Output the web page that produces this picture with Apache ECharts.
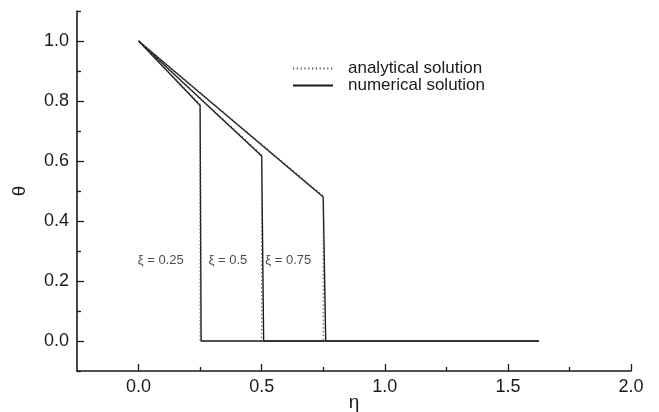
<!DOCTYPE html>
<html>
<head>
<meta charset="utf-8">
<script src="https://cdn.jsdelivr.net/npm/echarts@6/dist/echarts.min.js"></script>
<style>
  html, body { margin: 0; padding: 0; background: #fff; }
  #chart { width: 659px; height: 412px; }
</style>
</head>
<body>
<div id="chart"></div>
<script>
// Temperature profiles θ(η) at three times ξ
const xi = [0.25, 0.5, 0.75];
const xiLabels = ['ξ = 0.25', 'ξ = 0.5', 'ξ = 0.75'];

// analytical solution (eta, theta) per xi
const anaEta = [
  [0, 0.25, 0.25, 1.625],
  [0, 0.5, 0.5, 1.625],
  [0, 0.75, 0.75, 1.625]
];
const anaTheta = [
  [1.0, 0.789, 0, 0],
  [1.0, 0.621, 0, 0],
  [1.0, 0.484, 0, 0]
];

// numerical solution (eta, theta) per xi
const numEta = [
  [0, 0.25, 0.254, 1.625],
  [0, 0.5, 0.508, 1.625],
  [0, 0.75, 0.76, 1.625]
];
const numTheta = [
  [1.0, 0.785, 0, 0],
  [1.0, 0.617, 0, 0],
  [1.0, 0.48, 0, 0]
];

// annotation anchors (eta, theta) for the xi labels
const xiLabelEta = [0.09, 0.363, 0.608];
const xiLabelTheta = [0.27, 0.27, 0.27];

// axis ticks
const xMajor = [0, 0.5, 1.0, 1.5, 2.0];
const xMinor = [0.25, 0.75, 1.25, 1.75];
const yMajor = [0, 0.2, 0.4, 0.6, 0.8, 1.0];
const yMinor = [-0.1, 0.1, 0.3, 0.5, 0.7, 0.9, 1.1];

const FONT = '"Liberation Sans", Arial, Helvetica, sans-serif';
const INK = '#1a1a1a';

function pairs(xs, ys) { return xs.map((x, i) => [x, ys[i]]); }

const series = [];
xi.forEach((v, k) => {
  series.push({
    name: 'numerical solution', type: 'line', xAxisIndex: 0, yAxisIndex: 0,
    data: pairs(numEta[k], numTheta[k]), symbol: 'none', z: 2,
    lineStyle: { color: INK, width: 1.4, type: 'solid' }, itemStyle: { color: INK }
  });
});
xi.forEach((v, k) => {
  series.push({
    name: 'analytical solution', type: 'line', xAxisIndex: 0, yAxisIndex: 0,
    data: pairs(anaEta[k], anaTheta[k]), symbol: 'none', z: 3,
    lineStyle: { color: '#555', width: 1.2, type: [1.2, 2.6] }, itemStyle: { color: '#555' }
  });
});
series.push({
  type: 'scatter', xAxisIndex: 0, yAxisIndex: 0, symbolSize: 0, silent: true,
  data: xiLabels.map((t, i) => ({ value: [xiLabelEta[i], xiLabelTheta[i]], name: t })),
  label: { show: true, position: 'inside', formatter: p => p.name,
           fontFamily: FONT, fontSize: 13, color: INK }
});

const xBase = {
  type: 'value', min: -0.25, max: 2.0, gridIndex: 0, position: 'bottom',
  splitLine: { show: false }
};
const yBase = {
  type: 'value', min: -0.1, max: 1.1, gridIndex: 0, position: 'left',
  splitLine: { show: false }
};

const option = {
  animation: false,
  backgroundColor: '#fff',
  grid: { left: 77, top: 11, right: 28, bottom: 41, containLabel: false, outerBoundsMode: 'none' },
  legend: {
    data: ['analytical solution', 'numerical solution'],
    orient: 'vertical', left: 287, top: 55, itemWidth: 40, itemHeight: 14, itemGap: 0,
    itemStyle: { opacity: 0 },
    textStyle: { fontFamily: FONT, fontSize: 17, lineHeight: 17, color: INK, padding: [0, 0, 0, 10] }
  },
  xAxis: [
    Object.assign({}, xBase, {
      name: 'η', nameLocation: 'middle', nameGap: 22, nameMoveOverlap: false,
      nameTextStyle: { fontFamily: FONT, fontSize: 19, color: INK },
      axisLine: { show: true, onZero: false, lineStyle: { color: INK, width: 1.6 } },
      axisTick: { show: true, inside: true, length: 7, customValues: xMajor,
                  lineStyle: { color: INK, width: 1.3 } },
      axisLabel: { show: true, customValues: xMajor, margin: 7,
                   formatter: v => v.toFixed(1), fontFamily: FONT, fontSize: 18, color: INK }
    }),
    Object.assign({}, xBase, {
      axisLine: { show: false, onZero: false },
      axisTick: { show: true, inside: true, length: 4, customValues: xMinor,
                  lineStyle: { color: INK, width: 1.3 } },
      axisLabel: { show: false }
    })
  ],
  yAxis: [
    Object.assign({}, yBase, {
      name: 'θ', nameLocation: 'middle', nameGap: 48, nameRotate: 90, nameMoveOverlap: false,
      nameTextStyle: { fontFamily: FONT, fontSize: 19, color: INK },
      axisLine: { show: true, onZero: false, lineStyle: { color: INK, width: 1.6 } },
      axisTick: { show: true, inside: true, length: 7, customValues: yMajor,
                  lineStyle: { color: INK, width: 1.3 } },
      axisLabel: { show: true, customValues: yMajor, margin: 8,
                   formatter: v => v.toFixed(1), fontFamily: FONT, fontSize: 18, color: INK }
    }),
    Object.assign({}, yBase, {
      axisLine: { show: false, onZero: false },
      axisTick: { show: true, inside: true, length: 4, customValues: yMinor,
                  lineStyle: { color: INK, width: 1.3 } },
      axisLabel: { show: false }
    })
  ],
  series: series
};

const chart = echarts.init(document.getElementById('chart'), null, { renderer: 'canvas' });
chart.setOption(option);
</script>
</body>
</html>
